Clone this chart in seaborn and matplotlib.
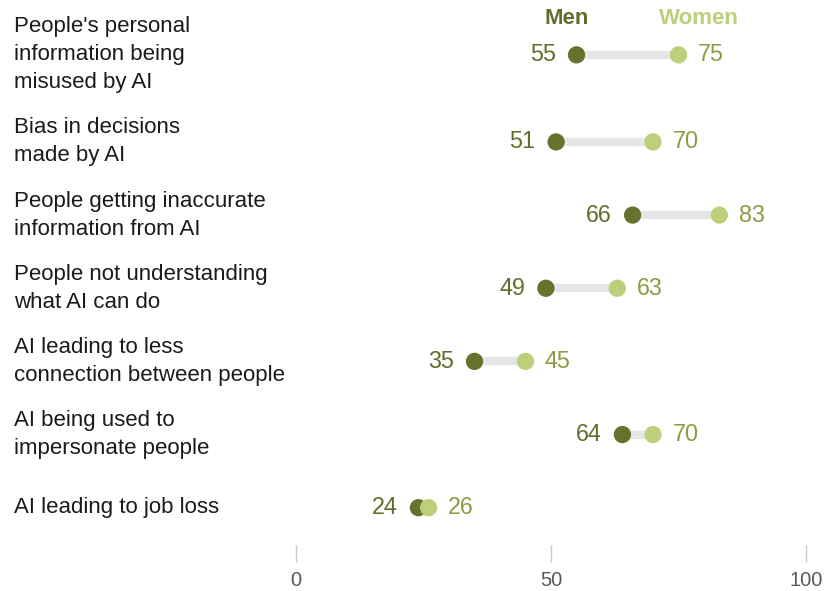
import numpy as np
import pandas as pd
import matplotlib
matplotlib.use("Agg")
import matplotlib.pyplot as plt
import matplotlib.transforms as mtransforms
import seaborn as sns

categories = [
    "People's personal\ninformation being\nmisused by AI",
    "Bias in decisions\nmade by AI",
    "People getting inaccurate\ninformation from AI",
    "People not understanding\nwhat AI can do",
    "AI leading to less\nconnection between people",
    "AI being used to\nimpersonate people",
    "AI leading to job loss",
]
men = [55, 51, 66, 49, 35, 64, 24]
women = [75, 70, 83, 63, 45, 70, 26]
x_ticks = [0, 50, 100]

MEN_DOT = "#66732e"
WOMEN_DOT = "#bccf7a"
MEN_TXT = "#5f6e2a"
WOMEN_TXT = "#8c9c42"
BAR = "#e6e6e6"

# Row positions: one unit per row, plus half a text line for each extra label line
half_line = 0.19
row_pos = []
acc = 0.0
for i, lab in enumerate(categories):
    row_pos.append(i + acc)
    acc += max(lab.count("\n") + 1 - 2, 0) * half_line

df = pd.DataFrame({
    "row": row_pos * 2,
    "value": men + women,
    "group": ["Men"] * len(men) + ["Women"] * len(women),
})

sns.set_theme(style="white")
plt.rcParams["font.family"] = ["Liberation Sans", "DejaVu Sans"]

fig = plt.figure(figsize=(8.35, 5.91), dpi=100)
ax = fig.add_axes([296 / 835, 46 / 591, 510 / 835, 545 / 591])

# connectors
ax.hlines(row_pos, men, women, color=BAR, linewidth=6, zorder=1)

sns.scatterplot(data=df, x="value", y="row", hue="group",
                palette={"Men": MEN_DOT, "Women": WOMEN_DOT},
                s=155, linewidth=0, legend=False, ax=ax, zorder=3)

# value labels
for y, m, w in zip(row_pos, men, women):
    ax.annotate(str(m), (m, y), xytext=(-15, 0), textcoords="offset points",
                ha="right", va="center", fontsize=16.8, color=MEN_TXT)
    ax.annotate(str(w), (w, y), xytext=(14, 0), textcoords="offset points",
                ha="left", va="center", fontsize=16.8, color=WOMEN_TXT)

# series headers
ax.annotate("Men", (men[0], row_pos[0]), xytext=(-7, 26), textcoords="offset points",
            ha="center", va="center", fontsize=16, fontweight="bold", color=MEN_TXT)
ax.annotate("Women", (women[0], row_pos[0]), xytext=(15, 26), textcoords="offset points",
            ha="center", va="center", fontsize=16, fontweight="bold", color=WOMEN_DOT)

# category labels
trans = mtransforms.blended_transform_factory(fig.transFigure, ax.transData)
for y, lab in zip(row_pos, categories):
    ax.text(14 / 835, y, lab, transform=trans, ha="left", va="center",
            fontsize=16, color="#1a1a1a", linespacing=1.44)

ax.set_xlim(0, 100)
ax.set_ylim(6.70, -0.75)
ax.set_xticks(x_ticks)
ax.set_xticklabels([str(t) for t in x_ticks])
ax.set_yticks([])
ax.set_xlabel("")
ax.set_ylabel("")
ax.tick_params(axis="x", bottom=True, length=12, width=1, color="#c8c8c8",
               labelsize=14.5, labelcolor="#595959", pad=7)
for s in ax.spines.values():
    s.set_visible(False)
ax.patch.set_alpha(0)

fig.savefig("out.png", dpi=100)
